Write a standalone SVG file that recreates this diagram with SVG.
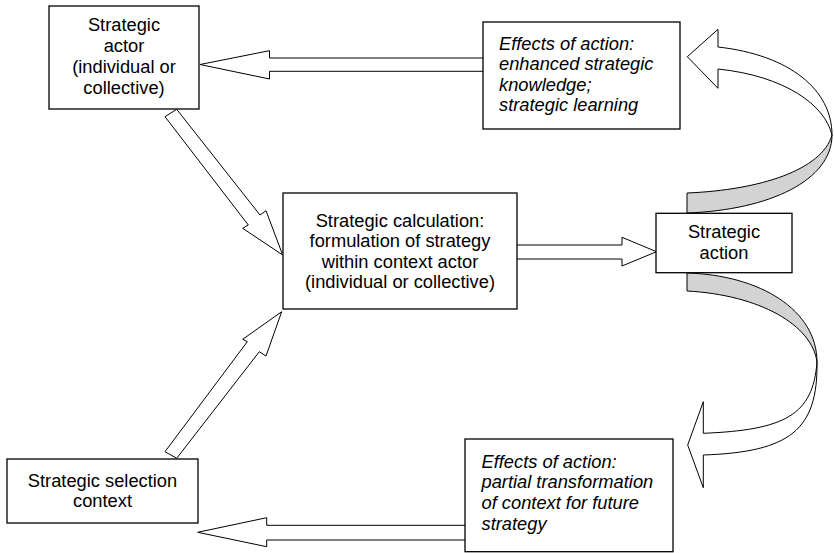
<svg xmlns="http://www.w3.org/2000/svg" width="834" height="553" viewBox="0 0 834 553">
<style>
.box{fill:#fff;stroke:#000;stroke-width:1.3}
.arr{fill:#fff;stroke:#000;stroke-width:1;stroke-linejoin:miter}
.gray{fill:#d3d3d3;stroke:#000;stroke-width:1}
text{font-family:"Liberation Sans",Arial,Helvetica,sans-serif;font-size:18.3px;fill:#000}
.c{text-anchor:middle}
.i{font-style:italic}
</style>
<rect width="834" height="553" fill="#fff"/>
<g id="connectors">
  <!-- effects 1 -> strategic actor -->
  <path class="arr" d="M483,58 L269.5,58 L269.5,50.7 L200,64.5 L269.5,79 L269.5,71.3 L483,71.3"/>
  <!-- calc -> action -->
  <path class="arr" d="M517,245 L622,245 L622,237.3 L656.5,251.7 L622,266 L622,259 L517,259"/>
  <!-- effects 2 -> selection context -->
  <path class="arr" d="M465,525.3 L266.7,525.3 L266.7,517.7 L197.7,532.3 L266.7,546.7 L266.7,540 L465,540"/>
  <!-- actor -> calc -->
  <path class="arr" d="M176.7,109.3 L260,215 L266,210.7 L282.7,255 L242.7,228.3 L248.3,225 L165,116.7 Z"/>
  <!-- selection context -> calc -->
  <path class="arr" d="M176.7,458.3 L259.3,351.7 L266,356 L281.7,311.7 L242.7,339.3 L247.3,341.7 L165,451.7 Z"/>
  <!-- action -> effects 1 (curved ribbon) -->
  <path class="gray" d="M832,135 C832,180 770,210 687,213 L687,193 C760,190 822,170 832,135 Z"/>
  <path class="arr" d="M718,47 C790,55 832,90 832,135 C825,105 785,76 718,69 L718,88.3 L687.3,56.7 L718,29.3 Z"/>
  <!-- action -> effects 2 (curved ribbon) -->
  <path class="gray" d="M687,273 C760,275 817,310 817,362 C812,325 760,295 687,291 Z"/>
  <path class="arr" d="M817,362 C818,430 790,452 703.3,455 L703.3,487.7 L687.7,445 L703.3,401.7 L703.3,433.3 C785,430 813,415 817,362 Z"/>
</g>
<g id="strategic-actor">
  <rect class="box" x="49" y="6" width="150" height="103"/>
  <text class="c" x="124" y="31">Strategic</text>
  <text class="c" x="124" y="52">actor</text>
  <text class="c" x="124" y="73">(individual or</text>
  <text class="c" x="124" y="94">collective)</text>
</g>
<g id="effects-learning">
  <rect class="box" x="483" y="22" width="197" height="107"/>
  <text class="i" x="499" y="49.5">Effects of action:</text>
  <text class="i" x="499" y="70">enhanced strategic</text>
  <text class="i" x="499" y="90.5">knowledge;</text>
  <text class="i" x="499" y="111">strategic learning</text>
</g>
<g id="strategic-calculation">
  <rect class="box" x="283" y="193" width="234" height="116"/>
  <text class="c" x="400" y="226.5">Strategic calculation:</text>
  <text class="c" x="400" y="247">formulation of strategy</text>
  <text class="c" x="400" y="267.5">within context actor</text>
  <text class="c" x="400" y="288">(individual or collective)</text>
</g>
<g id="strategic-action">
  <rect class="box" x="656" y="213.3" width="136" height="59.4"/>
  <text class="c" x="724" y="238">Strategic</text>
  <text class="c" x="724" y="258.5">action</text>
</g>
<g id="strategic-selection-context">
  <rect class="box" x="7" y="459" width="191" height="64"/>
  <text class="c" x="102.5" y="486.5">Strategic selection</text>
  <text class="c" x="102.5" y="507">context</text>
</g>
<g id="effects-transformation">
  <rect class="box" x="465" y="439" width="208" height="112.7"/>
  <text class="i" x="481.5" y="467.5">Effects of action:</text>
  <text class="i" x="481.5" y="488">partial transformation</text>
  <text class="i" x="481.5" y="509">of context for future</text>
  <text class="i" x="481.5" y="529.5">strategy</text>
</g>
</svg>
